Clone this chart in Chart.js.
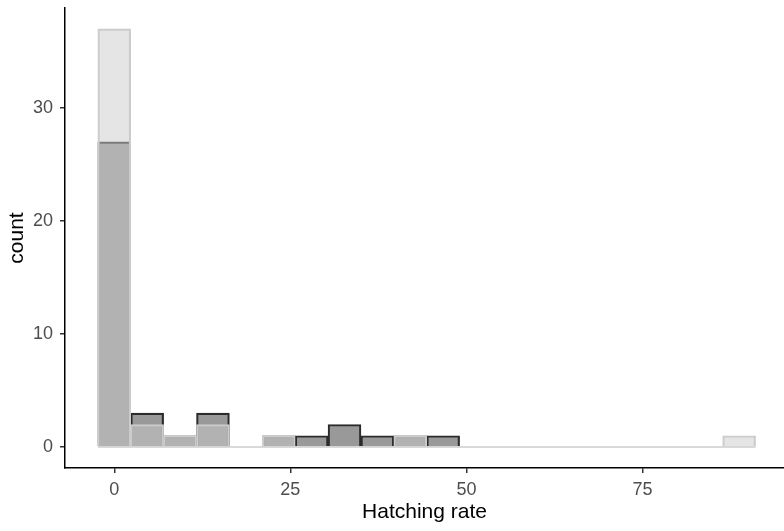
<!DOCTYPE html>
<html>
<head>
<meta charset="utf-8">
<script src="https://cdn.jsdelivr.net/npm/chart.js@4"></script>
<style>
  html, body { margin: 0; padding: 0; background: #ffffff; }
  #wrap { width: 784px; height: 531px; }
</style>
</head>
<body>
<div id="wrap"><canvas id="c" width="784" height="531"></canvas></div>
<script>
// Histogram bin midpoints (hatching rate) and counts per group
const binMids = [0, 4.67, 9.34, 14.01, 18.68, 23.35, 28.02, 32.69, 37.36, 42.03,
                 46.70, 51.37, 56.04, 60.71, 65.38, 70.05, 74.72, 79.39, 84.06, 88.73];
const countsA = [27, 3, 1, 3, 0, 1, 1, 2, 1, 1, 1, 0, 0, 0, 0, 0, 0, 0, 0, 0];
const countsB = [37, 2, 1, 2, 0, 1, 0, 0, 0, 1, 0, 0, 0, 0, 0, 0, 0, 0, 0, 1];
const xTicks = [0, 25, 50, 75];
const yTicks = [0, 10, 20, 30];
const binWidth = binMids[1] - binMids[0];

const FONT = "'Liberation Sans', Arial, sans-serif";

const toPoints = arr => arr.map((v, i) => ({ x: binMids[i], y: v }));

// zero-count bins still leave their outline along the baseline
const baseline = [
  { x: binMids[0] - binWidth / 2, y: 0 },
  { x: binMids[binMids.length - 1] + binWidth / 2, y: 0 }
];

new Chart(document.getElementById('c'), {
  type: 'bar',
  data: {
    datasets: [
      {
        label: 'A',
        data: toPoints(countsA),
        backgroundColor: 'rgba(51,51,51,0.5)',
        borderColor: '#2b2b2b',
        borderWidth: 1.5,
        borderSkipped: 'start',
        grouped: false,
        barPercentage: 1,
        categoryPercentage: 1,
        order: 2
      },
      {
        label: 'B',
        data: toPoints(countsB),
        backgroundColor: 'rgba(204,204,204,0.5)',
        borderColor: '#cccccc',
        borderWidth: 1.5,
        borderSkipped: 'start',
        grouped: false,
        barPercentage: 1,
        categoryPercentage: 1,
        order: 1
      },
      {
        type: 'line',
        label: 'base',
        data: baseline,
        borderColor: '#cccccc',
        borderWidth: 1.5,
        pointRadius: 0,
        order: 0
      }
    ]
  },
  options: {
    responsive: false,
    devicePixelRatio: 1,
    animation: false,
    layout: { padding: { top: 8, left: 0, right: 0, bottom: 0 } },
    plugins: {
      legend: { display: false },
      tooltip: { enabled: false }
    },
    scales: {
      x: {
        type: 'linear',
        offset: false,
        min: -7.0,
        max: 95.1,
        afterBuildTicks: s => { s.ticks = xTicks.map(v => ({ value: v })); },
        afterFit: s => { s.height = 63; s.paddingLeft = 0; s.paddingRight = 0; },
        grid: { offset: false, drawOnChartArea: false, drawTicks: true, tickLength: 5, color: '#333333', lineWidth: 1.5 },
        border: { display: true, color: '#000000', width: 1.5 },
        ticks: { color: '#4d4d4d', font: { family: FONT, size: 18 }, padding: 6, maxRotation: 0 },
        title: { display: true, text: 'Hatching rate', color: '#000000',
                 font: { family: FONT, size: 21 }, padding: { top: 0, bottom: 6 } }
      },
      y: {
        type: 'linear',
        offset: false,
        min: -1.85,
        max: 38.85,
        afterBuildTicks: s => { s.ticks = yTicks.map(v => ({ value: v })); },
        afterFit: s => { s.width = 65; s.paddingTop = 0; s.paddingBottom = 0; },
        grid: { offset: false, drawOnChartArea: false, drawTicks: true, tickLength: 5, color: '#333333', lineWidth: 1.5 },
        border: { display: true, color: '#000000', width: 1.5 },
        ticks: { color: '#4d4d4d', font: { family: FONT, size: 18 }, padding: 7 },
        title: { display: true, text: 'count', color: '#000000',
                 font: { family: FONT, size: 21 }, padding: { top: 5, bottom: 0 } }
      }
    }
  }
});
</script>
</body>
</html>
